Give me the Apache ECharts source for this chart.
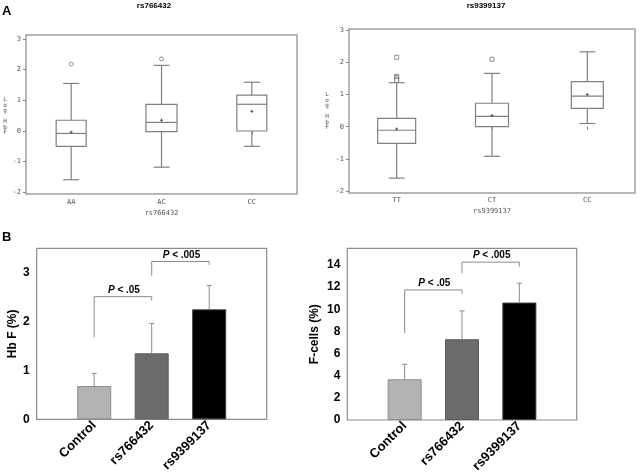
<!DOCTYPE html>
<html><head><meta charset="utf-8">
<script src="https://cdn.jsdelivr.net/npm/echarts/dist/echarts.min.js"></script>
<style>html,body{margin:0;padding:0;background:#fff}#c{width:640px;height:476px}</style>
</head><body><div id="c"></div>
<script>
// ---- Panel A, left: rs766432 ----
const aLeftTitle = 'rs766432';
const aLeftCats = ['AA', 'AC', 'CC'];
const aLeftMin  = [-1.59, -1.18, -0.50];
const aLeftQ1   = [-0.50, -0.02,  0.00];
const aLeftMed  = [-0.08,  0.28,  0.87];
const aLeftQ3   = [ 0.35,  0.87,  1.17];
const aLeftMax  = [ 1.55,  2.14,  1.59];
const aLeftMean = [-0.04,  0.35,  0.64];
const aLeftOutliers = [['AA', 2.18], ['AC', 2.35]];

// ---- Panel A, right: rs9399137 ----
const aRightTitle = 'rs9399137';
const aRightCats = ['TT', 'CT', 'CC'];
const aRightMin  = [-1.60, -0.92, 0.10];
const aRightQ1   = [-0.52,  0.00, 0.57];
const aRightMed  = [-0.11,  0.32, 0.95];
const aRightQ3   = [ 0.26,  0.73, 1.40];
const aRightMax  = [ 1.37,  1.66, 2.33];
const aRightMean = [-0.07,  0.35, 1.00];
const aRightOutliers = [['TT', 2.16], ['TT', 1.57], ['TT', 1.53], ['TT', 1.48], ['TT', 1.44], ['CT', 2.10]];

const aYName = 'Log HbF';

// ---- Panel B ----
const bCats = ['Control', 'rs766432', 'rs9399137'];
const hbfMean = [0.68, 1.35, 2.25];
const hbfSD   = [0.26, 0.61, 0.49];
const fcellMean = [3.68, 7.29, 10.6];
const fcellSD   = [1.35, 2.56, 1.75];
// brackets: [fromCat, toCat, leftFoot, top, rightFoot, label]
const hbfBrackets = [
  ['Control', 'rs766432', 1.68, 2.51, 2.43, '.05'],
  ['rs766432', 'rs9399137', 2.94, 3.23, 3.16, '.005']
];
const fcellBrackets = [
  ['Control', 'rs766432', 7.83, 11.74, 11.38, '.05'],
  ['rs766432', 'rs9399137', 13.25, 14.25, 13.85, '.005']
];

// ---- styles ----
const boxWidthsLeft = [30, 31, 30];
const boxWidthsRight = [38, 33, 32];
const barFills = ['#b3b3b3', '#6b6b6b', '#000000'];
const barBorders = ['#8c8c8c', '#5a5a5a', '#3a3a3a'];
const SAS_FONT = 'DejaVu Sans Mono';
const SAS_COLOR = '#555';
const BOLD_FONT = 'Liberation Sans, Arial, sans-serif';

function makeBoxRender(widths) {
  return function (params, api) {
    const i = params.dataIndex;
    const c = api.value(0);
    const p = k => api.coord([c, api.value(k)]);
    const x = p(1)[0];
    const yMin = p(1)[1], yQ1 = p(2)[1], yMed = p(3)[1], yQ3 = p(4)[1], yMax = p(5)[1], yMean = p(6)[1];
    const hw = widths[i] / 2, cw = 8;
    const st = { stroke: '#808080', lineWidth: 1.2, fill: null };
    return { type: 'group', children: [
      { type: 'line', shape: { x1: x, y1: yQ3, x2: x, y2: yMax }, style: st },
      { type: 'line', shape: { x1: x, y1: yQ1, x2: x, y2: yMin }, style: st },
      { type: 'line', shape: { x1: x - cw, y1: yMax, x2: x + cw, y2: yMax }, style: st },
      { type: 'line', shape: { x1: x - cw, y1: yMin, x2: x + cw, y2: yMin }, style: st },
      { type: 'rect', shape: { x: x - hw, y: yQ3, width: 2 * hw, height: yQ1 - yQ3 }, style: { stroke: '#808080', lineWidth: 1.2, fill: '#fff' } },
      { type: 'line', shape: { x1: x - hw, y1: yMed, x2: x + hw, y2: yMed }, style: st },
      { type: 'line', shape: { x1: x - 1.5, y1: yMean, x2: x + 1.5, y2: yMean }, style: { stroke: '#555', lineWidth: 1 } },
      { type: 'line', shape: { x1: x, y1: yMean - 1.5, x2: x, y2: yMean + 1.5 }, style: { stroke: '#555', lineWidth: 1 } }
    ]};
  };
}

function errRender(params, api) {
  const c = api.value(0);
  const p0 = api.coord([c, api.value(1)]);
  const p1 = api.coord([c, api.value(1) + api.value(2)]);
  const st = { stroke: '#8c8c8c', lineWidth: 1 };
  return { type: 'group', children: [
    { type: 'line', shape: { x1: p0[0], y1: p0[1], x2: p1[0], y2: p1[1] }, style: st },
    { type: 'line', shape: { x1: p1[0] - 2.5, y1: p1[1], x2: p1[0] + 2.5, y2: p1[1] }, style: st }
  ]};
}

function makeBracketRender(labels) {
  return function (params, api) {
    const a = api.coord([api.value(0), api.value(2)]);
    const t1 = api.coord([api.value(0), api.value(3)]);
    const t2 = api.coord([api.value(1), api.value(3)]);
    const b = api.coord([api.value(1), api.value(4)]);
    return { type: 'group', children: [
      { type: 'polyline', shape: { points: [a, t1, t2, b] }, style: { stroke: '#8c8c8c', lineWidth: 1, fill: null } },
      { type: 'text', x: (t1[0] + t2[0]) / 2 + 1, y: t1[1] - 1.5,
        style: { text: '{p|P} < ' + labels[params.dataIndex], align: 'center', verticalAlign: 'bottom',
          fontSize: 10, fontWeight: 'bold', fontFamily: BOLD_FONT, fill: '#000',
          rich: { p: { fontStyle: 'italic', fontWeight: 'bold', fontSize: 10, fontFamily: BOLD_FONT, fill: '#000' } } } }
    ]};
  };
}

const padCats = ['', ...bCats, ' '];
const idxB = name => padCats.indexOf(name);

function topX(gi, cats, name) {
  return { gridIndex: gi, type: 'category', data: cats, offset: 2,
    axisLine: { show: false },
    axisTick: { show: true, alignWithLabel: true, length: 3, lineStyle: { color: '#888' } },
    axisLabel: { fontSize: 7, color: SAS_COLOR, fontFamily: SAS_FONT, margin: 4 },
    name: name, nameLocation: 'middle', nameGap: 15,
    nameTextStyle: { fontSize: 7, color: SAS_COLOR, fontFamily: SAS_FONT } };
}
function topY(gi) {
  return { gridIndex: gi, type: 'value', min: -2, max: 3, interval: 1,
    axisLine: { show: false }, splitLine: { show: false },
    axisTick: { show: true, length: 3, lineStyle: { color: '#888' } },
    axisLabel: { fontSize: 7, color: SAS_COLOR, fontFamily: SAS_FONT, margin: 5 } };
}
function botX(gi) {
  return { gridIndex: gi, type: 'category', data: padCats, boundaryGap: false,
    axisLine: { show: false }, axisTick: { show: false },
    axisLabel: { rotate: 45, fontSize: 13, fontWeight: 'bold', fontFamily: BOLD_FONT, color: '#000', margin: 4, interval: 0 } };
}
function botY(gi, max, step, name, gap) {
  return { gridIndex: gi, type: 'value', min: 0, max: max, interval: step,
    axisLine: { show: false }, axisTick: { show: false }, splitLine: { show: false },
    axisLabel: { fontSize: 12, fontWeight: 'bold', fontFamily: BOLD_FONT, color: '#000', margin: 7,
      formatter: v => (Math.abs(v / step - Math.round(v / step)) < 1e-9 ? String(v) : '') },
    name: name, nameLocation: 'middle', nameGap: gap,
    nameTextStyle: { fontSize: 12, fontWeight: 'bold', fontFamily: BOLD_FONT, color: '#000' } };
}

function boxData(cats, mn, q1, md, q3, mx, mean) {
  return cats.map((c, i) => [i, mn[i], q1[i], md[i], q3[i], mx[i], mean[i]]);
}

const chart = echarts.init(document.getElementById('c'), null, { renderer: 'canvas' });
chart.setOption({
  animation: false,
  backgroundColor: '#fff',
  grid: [
    { left: 26, top: 39, width: 271, height: 153.3 },
    { left: 349, top: 30.3, width: 286, height: 160.7 },
    { left: 36.7, top: 248.3, width: 230, height: 171, show: true, borderColor: '#8c8c8c', borderWidth: 1.2 },
    { left: 347.3, top: 248.3, width: 229.4, height: 171.7, show: true, borderColor: '#8c8c8c', borderWidth: 1.2 }
  ],
  xAxis: [ topX(0, aLeftCats, aLeftTitle), topX(1, aRightCats, aRightTitle), botX(2), botX(3) ],
  yAxis: [ topY(0), topY(1), botY(2, 3.5, 1, 'Hb F (%)', 16), botY(3, 15.5, 2, 'F-cells (%)', 27) ],
  graphic: [
    { type: 'rect', shape: { x: 26, y: 35, width: 271, height: 159 }, style: { fill: null, stroke: '#a0a0a0', lineWidth: 1.5 } },
    { type: 'rect', shape: { x: 349, y: 29, width: 286, height: 164 }, style: { fill: null, stroke: '#a0a0a0', lineWidth: 1.5 } },
    { type: 'text', x: 154, y: 6, style: { text: aLeftTitle, align: 'center', verticalAlign: 'middle', font: 'bold 8px ' + BOLD_FONT, fill: '#000' } },
    { type: 'text', x: 486, y: 6, style: { text: aRightTitle, align: 'center', verticalAlign: 'middle', font: 'bold 8px ' + BOLD_FONT, fill: '#000' } },
    { type: 'text', x: 2, y: 5, style: { text: 'A', font: 'bold 13px ' + BOLD_FONT, fill: '#000' } },
    { type: 'text', x: 2, y: 231, style: { text: 'B', font: 'bold 13px ' + BOLD_FONT, fill: '#000' } },
    { type: 'text', x: 5, y: 116, style: { text: aYName.split('').join('\n'), align: 'center', verticalAlign: 'middle', fontSize: 6, lineHeight: 5.5, fontFamily: SAS_FONT, fill: SAS_COLOR } },
    { type: 'text', x: 327, y: 111, style: { text: aYName.split('').join('\n'), align: 'center', verticalAlign: 'middle', fontSize: 6, lineHeight: 5.5, fontFamily: SAS_FONT, fill: SAS_COLOR } }
  ],
  series: [
    { type: 'custom', xAxisIndex: 0, yAxisIndex: 0, renderItem: makeBoxRender(boxWidthsLeft),
      encode: { x: 0, y: [1, 2, 3, 4, 5, 6] }, data: boxData(aLeftCats, aLeftMin, aLeftQ1, aLeftMed, aLeftQ3, aLeftMax, aLeftMean) },
    { type: 'scatter', xAxisIndex: 0, yAxisIndex: 0, symbol: 'circle', symbolSize: 4,
      itemStyle: { color: '#fff', borderColor: '#777', borderWidth: 1 },
      data: aLeftOutliers.map(d => [aLeftCats.indexOf(d[0]), d[1]]) },
    { type: 'custom', xAxisIndex: 1, yAxisIndex: 1, renderItem: makeBoxRender(boxWidthsRight),
      encode: { x: 0, y: [1, 2, 3, 4, 5, 6] }, data: boxData(aRightCats, aRightMin, aRightQ1, aRightMed, aRightQ3, aRightMax, aRightMean) },
    { type: 'scatter', xAxisIndex: 1, yAxisIndex: 1, symbol: 'rect', symbolSize: 4,
      itemStyle: { color: '#fff', borderColor: '#777', borderWidth: 1 },
      data: aRightOutliers.map(d => [aRightCats.indexOf(d[0]), d[1]]) },

    { type: 'bar', xAxisIndex: 2, yAxisIndex: 2, barWidth: 34,
      data: ['-', ...hbfMean.map((v, i) => ({ value: v, itemStyle: { color: barFills[i], borderColor: barBorders[i], borderWidth: 1 } })), '-'] },
    { type: 'custom', xAxisIndex: 2, yAxisIndex: 2, renderItem: errRender, z: 5,
      encode: { x: 0, y: [1, 2] }, data: bCats.map((c, i) => [idxB(c), hbfMean[i], hbfSD[i]]) },
    { type: 'custom', xAxisIndex: 2, yAxisIndex: 2, renderItem: makeBracketRender(hbfBrackets.map(b => b[5])), z: 5,
      encode: { x: [0, 1], y: [2, 3, 4] }, data: hbfBrackets.map(b => [idxB(b[0]), idxB(b[1]), b[2], b[3], b[4]]) },

    { type: 'bar', xAxisIndex: 3, yAxisIndex: 3, barWidth: 34,
      data: ['-', ...fcellMean.map((v, i) => ({ value: v, itemStyle: { color: barFills[i], borderColor: barBorders[i], borderWidth: 1 } })), '-'] },
    { type: 'custom', xAxisIndex: 3, yAxisIndex: 3, renderItem: errRender, z: 5,
      encode: { x: 0, y: [1, 2] }, data: bCats.map((c, i) => [idxB(c), fcellMean[i], fcellSD[i]]) },
    { type: 'custom', xAxisIndex: 3, yAxisIndex: 3, renderItem: makeBracketRender(fcellBrackets.map(b => b[5])), z: 5,
      encode: { x: [0, 1], y: [2, 3, 4] }, data: fcellBrackets.map(b => [idxB(b[0]), idxB(b[1]), b[2], b[3], b[4]]) }
  ]
});
</script></body></html>
